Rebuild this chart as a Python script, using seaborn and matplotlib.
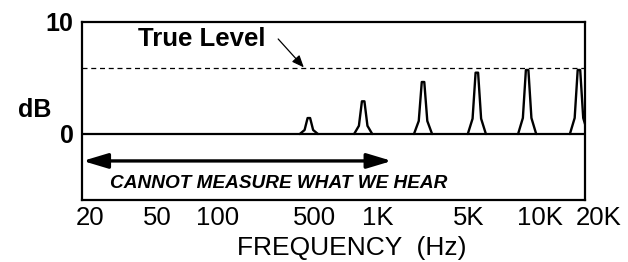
import numpy as np
import pandas as pd
import matplotlib
matplotlib.use('Agg')
import matplotlib.pyplot as plt
import seaborn as sns

# ── data ──
# x is a position along the hand-drawn frequency axis (0 = left frame, 100 = right frame)
tick_labels = ['20', '50', '100', '500', '1K', '5K', '10K', '20K']
tick_pos    = [1.6, 15.0, 26.9, 46.3, 58.7, 76.9, 91.1, 102.7]

peak_pos    = [45.1, 55.9, 67.8, 78.5, 88.5, 98.8]
peak_db     = [1.42, 2.91, 4.63, 5.46, 5.70, 5.70]

true_level  = 5.85
y_ticks     = [0, 10]

# peak outline: half-widths (position units) and relative heights
shape_dx = [-1.8, -0.85, -0.25, 0.25, 0.85, 1.8]
shape_fr = [0.0, 0.25, 1.0, 1.0, 0.25, 0.0]

rows = []
for i, (p, h) in enumerate(zip(peak_pos, peak_db)):
    for dx, fr in zip(shape_dx, shape_fr):
        rows.append({'peak': i, 'x': p + dx, 'db': h * fr})
df = pd.DataFrame(rows)

sns.set_theme(style='white')
plt.rcParams['font.family'] = ['Liberation Sans', 'DejaVu Sans']
plt.rcParams['text.color'] = 'black'
plt.rcParams['ytick.color'] = 'black'
plt.rcParams['xtick.color'] = 'black'

fig = plt.figure(figsize=(6.28, 2.62), dpi=100)
ax = fig.add_axes([0.1306, 0.2366, 0.8009, 0.6806])

sns.lineplot(data=df, x='x', y='db', units='peak', estimator=None,
             color='black', linewidth=1.7, sort=False, ax=ax, legend=False)

ax.axhline(0, color='black', linewidth=1.6)
ax.axhline(true_level, color='black', linewidth=0.9, linestyle=(0, (4, 3)))

ax.set_xlim(0, 100)
ax.set_ylim(-5.88, 10)
for s in ax.spines.values():
    s.set_visible(True)
    s.set_color('black')
    s.set_linewidth(1.6)

ax.set_xticks([])
ax.set_yticks(y_ticks)
ax.set_yticklabels([str(v) for v in y_ticks], fontsize=18, fontweight='bold')
ax.tick_params(axis='y', length=0, pad=6)
ax.set_xlabel('')
ax.set_ylabel('')

tr = ax.get_xaxis_transform()
for lab, p in zip(tick_labels, tick_pos):
    ax.text(p, -0.10, lab, transform=tr, ha='center', va='center',
            fontsize=18.5, clip_on=False)

ax.text(53.6, -0.27, 'FREQUENCY  (Hz)', transform=tr, ha='center',
        va='center', fontsize=19, clip_on=False)

ax.text(-0.095, 2.1, 'dB', transform=ax.get_yaxis_transform(), ha='center',
        va='center', fontsize=18, fontweight='bold', clip_on=False)

# True Level label with pointer
ax.text(23.8, 8.46, 'True Level', ha='center', va='center',
        fontsize=18.5, fontweight='bold')
ax.annotate('', xy=(44.1, true_level + 0.08), xytext=(39.0, 8.46),
            arrowprops=dict(arrowstyle='-|>,head_length=0.6,head_width=0.25',
                            color='black', linewidth=0.9, shrinkA=0, shrinkB=0))

# double arrow over the range we cannot measure
ax.annotate('', xy=(61.6, -2.4), xytext=(0.15, -2.4),
            arrowprops=dict(arrowstyle='<|-|>,head_length=1.5,head_width=0.45',
                            color='black', linewidth=2.4, shrinkA=0, shrinkB=0,
                            mutation_scale=10))
ax.text(5.6, -4.45, 'CANNOT MEASURE WHAT WE HEAR', ha='left', va='center',
        fontsize=13.7, fontweight='bold', fontstyle='italic')

fig.savefig('out.png', dpi=100, facecolor='white')
